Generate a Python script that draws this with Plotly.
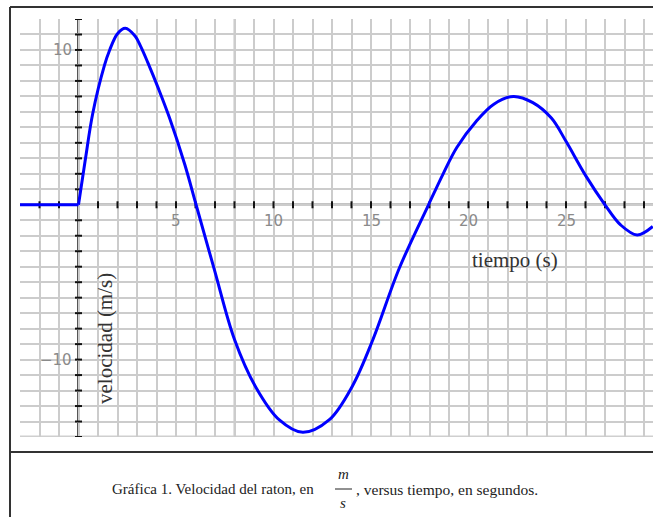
import plotly.graph_objects as go
import numpy as np

# ---- data (velocity in tenths of m/s, as labelled on the chart) ----
t_pre = [-3, 0]
v_pre = [0, 0]
t_curve = [0, 0.36, 0.73, 1.33, 1.6, 2.0, 2.4, 2.9, 3.2, 3.55, 4.1, 4.67, 5.45, 6.03,
           6.97, 8.0, 9.1, 10.3, 11.5, 12.85, 14.05, 15.1, 16.45, 17.95,
           18.7, 19.4, 20.4, 21.3, 22.3, 23.3, 24.25, 25.0, 26.0, 27.0,
           27.8, 28.65, 29.45]
v_curve = [0, 3.0, 5.9, 9.0, 10.0, 11.05, 11.4, 10.9, 10.2, 9.2, 7.5, 5.6, 2.6, 0,
           -4.2, -8.7, -11.8, -13.9, -14.7, -13.9, -11.7, -8.7, -4.1, 0,
           2.0, 3.7, 5.4, 6.5, 7.0, 6.6, 5.6, 4.1, 1.9, 0,
           -1.3, -1.95, -1.4]
xtick_vals = [5, 10, 15, 20, 25]
xtick_text = ["5", "10", "15", "20", "25"]
ytick_vals = [10, -10]
ytick_text = ["10", "\u221210"]
x_title = "tiempo (s)"
y_title = "velocidad (m/s)"
caption_left = "Gráfica 1. Velocidad del raton, en"
caption_right = ", versus tiempo, en segundos."

W, H = 653, 517
ML, MR, MT, MB = 20, 0, 19, 80
XR = [-3, -3 + (W - ML - MR) / 19.5]
YR = [-15, 12]
PW, PH = W - ML - MR, H - MT - MB

def px(x):
    return (x - ML) / PW

def py(y):
    return (H - MB - y) / PH

fig = go.Figure()

# axis tick marks
xt = np.arange(-2, 30, 1)
xt = xt[xt != 0]
fig.add_trace(go.Scatter(x=xt, y=[0] * len(xt), mode="markers",
                         marker=dict(symbol="line-ns", size=5, line=dict(width=2, color="#111")),
                         hoverinfo="skip", showlegend=False))
yt = np.arange(-15, 13, 1)
yt = yt[yt != 0]
fig.add_trace(go.Scatter(x=[0] * len(yt), y=yt, mode="markers",
                         marker=dict(symbol="line-ew", size=5, line=dict(width=2, color="#111")),
                         hoverinfo="skip", showlegend=False))

fig.add_trace(go.Scatter(x=t_pre, y=v_pre, mode="lines",
                         line=dict(color="#0000ff", width=3), showlegend=False))
fig.add_trace(go.Scatter(x=t_curve, y=v_curve, mode="lines",
                         line=dict(color="#0000ff", width=3, shape="spline", smoothing=1.0),
                         showlegend=False))

shapes = [
    # darker grid lines
    dict(type="line", xref="x", yref="paper", x0=8, x1=8, y0=0, y1=1,
         line=dict(color="#8a8a8a", width=1.5), layer="below"),
    dict(type="line", xref="paper", yref="y", x0=0, x1=1, y0=10, y1=10,
         line=dict(color="#8a8a8a", width=1.5), layer="below"),
    # bottom band
    dict(type="line", xref="paper", yref="y", x0=0, x1=1, y0=-15, y1=-15,
         line=dict(color="#cfcfcf", width=3), layer="below"),
    # axes
    dict(type="line", xref="x", yref="y", x0=0, x1=0, y0=-15, y1=12.2,
         line=dict(color="#555555", width=3), layer="below"),
    dict(type="line", xref="paper", yref="y", x0=0, x1=1, y0=0, y1=0,
         line=dict(color="#111111", width=2), layer="below"),
    # outer frame
    dict(type="line", xref="paper", yref="paper", x0=px(10), x1=px(10), y0=py(7), y1=py(517),
         line=dict(color="#333333", width=2)),
    dict(type="line", xref="paper", yref="paper", x0=px(10), x1=px(653), y0=py(7), y1=py(7),
         line=dict(color="#333333", width=2)),
    dict(type="line", xref="paper", yref="paper", x0=px(10), x1=px(653), y0=py(452), y1=py(452),
         line=dict(color="#333333", width=2)),
    # fraction bar
    dict(type="line", xref="paper", yref="paper", x0=px(335), x1=px(352), y0=py(489), y1=py(489),
         line=dict(color="#222222", width=1)),
]

ann = []
for v, s in zip(xtick_vals, xtick_text):
    ann.append(dict(x=v, y=0, xref="x", yref="y", text=s, showarrow=False,
                    yshift=-16, xanchor="center", yanchor="middle",
                    font=dict(family="DejaVu Sans", size=15, color="#8a8a8a")))
for v, s in zip(ytick_vals, ytick_text):
    ann.append(dict(x=0, y=v, xref="x", yref="y", text=s, showarrow=False,
                    xshift=-5, xanchor="right", yanchor="middle",
                    font=dict(family="DejaVu Sans", size=15, color="#8a8a8a")))
ann.append(dict(x=px(515), y=py(260), xref="paper", yref="paper", text=x_title,
                showarrow=False, xanchor="center", yanchor="middle",
                font=dict(family="Liberation Serif", size=21, color="#333333")))
ann.append(dict(x=px(105), y=py(339), xref="paper", yref="paper", text=y_title,
                showarrow=False, xanchor="center", yanchor="middle", textangle=-90,
                font=dict(family="Liberation Serif", size=21, color="#333333")))
cap_font = dict(family="Liberation Serif", size=15, color="#222222")
ann.append(dict(x=px(316), y=py(489), xref="paper", yref="paper", text=caption_left,
                showarrow=False, xanchor="right", yanchor="middle", font=cap_font))
ann.append(dict(x=px(343), y=py(474), xref="paper", yref="paper", text="<i>m</i>",
                showarrow=False, xanchor="center", yanchor="middle", font=cap_font))
ann.append(dict(x=px(343), y=py(503), xref="paper", yref="paper", text="<i>s</i>",
                showarrow=False, xanchor="center", yanchor="middle", font=cap_font))
ann.append(dict(x=px(354), y=py(489), xref="paper", yref="paper", text=caption_right,
                showarrow=False, xanchor="left", yanchor="middle",
                font=dict(family="Liberation Serif", size=15.5, color="#222222")))

fig.update_layout(
    width=W, height=H,
    margin=dict(l=ML, r=MR, t=MT, b=MB),
    paper_bgcolor="white", plot_bgcolor="white",
    shapes=shapes, annotations=ann,
    xaxis=dict(range=XR, dtick=1, tick0=0, showgrid=True, gridcolor="#cccccc", gridwidth=1.5,
               zeroline=False, showticklabels=False, ticks="", showline=False, fixedrange=True),
    yaxis=dict(range=YR, dtick=1, tick0=0, showgrid=True, gridcolor="#cccccc", gridwidth=1.5,
               zeroline=False, showticklabels=False, ticks="", showline=False, fixedrange=True),
    showlegend=False,
)
fig.write_html("out.html", config={"displayModeBar": False},
               post_script="document.body.style.margin='0';document.body.style.overflow='hidden';")
